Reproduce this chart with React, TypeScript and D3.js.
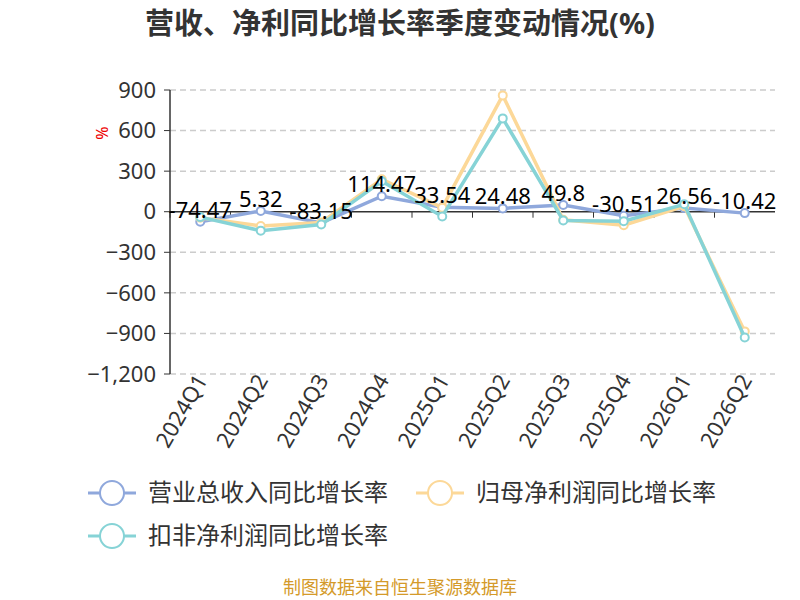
import React from "react";
import * as d3 from "d3";

const quarters = ["2024Q1", "2024Q2", "2024Q3", "2024Q4", "2025Q1", "2025Q2", "2025Q3", "2025Q4", "2026Q1", "2026Q2"];
const revenue = [-74.47, 5.32, -83.15, 114.47, 33.54, 24.48, 49.8, -30.51, 26.56, -10.42];
const netProfit = [-45, -105, -80, 240, 30, 860, -60, -100, 40, -885];
const deductedProfit = [-40, -140, -95, 225, -35, 690, -65, -70, 55, -930];
const yTicks = [900, 600, 300, 0, -300, -600, -900, -1200];

const series = [
  { name: "营业总收入同比增长率", color: "#8fa8dc", values: revenue },
  { name: "归母净利润同比增长率", color: "#fcd898", values: netProfit },
  { name: "扣非净利润同比增长率", color: "#86d3d6", values: deductedProfit },
];

const font = "'Noto Sans', 'Noto Sans CJK SC', sans-serif";

export default function App() {
  const x = d3.scaleBand().domain(quarters).range([170, 775]);
  const y = d3.scaleLinear().domain([-1200, 900]).range([374, 90]);
  const cx = (q: string) => (x(q) as number) + x.bandwidth() / 2;
  const line = d3.line<number>().x((_, i) => cx(quarters[i])).y((v) => y(v));

  return (
    <svg width={800} height={600} style={{ position: "absolute", left: 0, top: 0, fontFamily: font }}>
      <rect width={800} height={600} fill="#fff" />
      <text x={400} y={34} textAnchor="middle" fontSize={29} fontWeight="bold" fill="#333">
        营收、净利同比增长率季度变动情况(%)
      </text>
      {yTicks.map((t) => (
        <g key={t}>
          {t !== 0 && (
            <line x1={170} x2={775} y1={y(t)} y2={y(t)} stroke="#ccc" strokeDasharray="6,4" strokeWidth={1.5} />
          )}
          <line x1={164} x2={170} y1={y(t)} y2={y(t)} stroke="#333" />
          <text x={156} y={y(t)} dy="0.35em" textAnchor="end" fontSize={22} fill="#333">
            {d3.format(",")(t)}
          </text>
        </g>
      ))}
      <line x1={170} x2={170} y1={90} y2={374} stroke="#333" strokeWidth={1.5} />
      <line x1={170} x2={775} y1={y(0)} y2={y(0)} stroke="#333" strokeWidth={1.5} />
      {quarters.map((q, i) => (
        <g key={q}>
          <line x1={170 + i * x.step()} x2={170 + i * x.step()} y1={y(0)} y2={y(0) + 6} stroke="#333" />
          <text
            transform={`translate(${cx(q) + 8},${380}) rotate(-60)`}
            textAnchor="end"
            fontSize={22}
            fill="#333"
          >
            {q}
          </text>
        </g>
      ))}
      <text transform={`translate(108,133) rotate(-90)`} textAnchor="middle" fontSize={16} fill="#e00">
        %
      </text>
      {series.map((s) => (
        <g key={s.name}>
          <path d={line(s.values) as string} fill="none" stroke={s.color} strokeWidth={3.5} />
          {s.values.map((v, i) => (
            <circle key={i} cx={cx(quarters[i])} cy={y(v)} r={4} fill="#fff" stroke={s.color} strokeWidth={2} />
          ))}
        </g>
      ))}
      {revenue.map((v, i) => (
        <text key={i} x={cx(quarters[i])} y={y(v) - 4} textAnchor="middle" fontSize={22} fill="#000">
          {v}
        </text>
      ))}
      {series.map((s, i) => {
        const lx = i === 1 ? 416 : 88;
        const ly = i === 2 ? 536 : 493;
        return (
          <g key={s.name}>
            <line x1={lx} x2={lx + 48} y1={ly} y2={ly} stroke={s.color} strokeWidth={3} />
            <circle cx={lx + 24} cy={ly} r={12} fill="#fff" stroke={s.color} strokeWidth={2} />
            <text x={lx + 60} y={ly} dy="0.35em" fontSize={24} fill="#333">
              {s.name}
            </text>
          </g>
        );
      })}
      <text x={400} y={594} textAnchor="middle" fontSize={18} fill="#d49a2a">
        制图数据来自恒生聚源数据库
      </text>
    </svg>
  );
}
